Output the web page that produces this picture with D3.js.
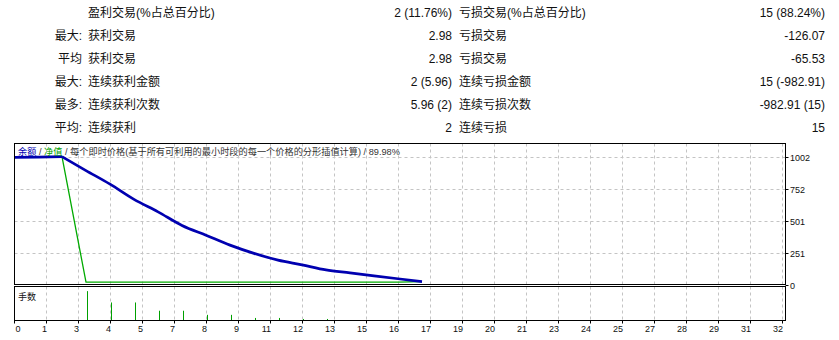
<!DOCTYPE html>
<html>
<head>
<meta charset="utf-8">
<script src="https://cdn.jsdelivr.net/npm/d3@7"></script>
<style>
  body { margin: 0; background: #fff; }
  svg { display: block; }
  text { font-family: 'Liberation Sans', 'Noto Sans CJK SC', sans-serif; fill: #111; }
</style>
</head>
<body>
<svg id="chart"></svg>
<script>
// summary table
const rowPrefix = ['', '最大:', '平均', '最大:', '最多:', '平均:'];
const winLabels = ['盈利交易(%占总百分比)', '获利交易', '获利交易', '连续获利金额', '连续获利次数', '连续获利'];
const winValues = ['2 (11.76%)', '2.98', '2.98', '2 (5.96)', '5.96 (2)', '2'];
const lossLabels = ['亏损交易(%占总百分比)', '亏损交易', '亏损交易', '连续亏损金额', '连续亏损次数', '连续亏损'];
const lossValues = ['15 (88.24%)', '-126.07', '-65.53', '15 (-982.91)', '-982.91 (15)', '15'];

// graph data, x = trade number
const tradeNo = [0, 1, 2, 3, 4, 5, 6, 7, 8, 9, 10, 11, 12, 13, 14, 15, 16, 17];
const balance = [1000, 1002.98, 1005.96, 897, 790, 670, 572, 465, 388, 310, 245, 192, 155, 115, 92, 68, 45, 23.05];
const equity = [1000, 1002.98, 1005.96, 18, 18, 18, 18, 18, 18, 18, 18, 18, 18, 18, 18, 18, 18, 23.05];
const volTrade = [1, 2, 3, 4, 5, 6, 7, 8, 9, 10, 11, 12, 13, 14, 15, 16, 17];
const volume = [0, 0, 0.28, 0.17, 0.17, 0.09, 0.09, 0.05, 0.05, 0.02, 0.02, 0.01, 0.01, 0, 0, 0, 0];
const yTicks = [0, 250.5, 501, 751.5, 1002];
const xTickStep = 4 / 3;

const titleParts = [
  { t: '余额', c: '#0000b0' },
  { t: ' / ', c: '#333' },
  { t: '净值', c: '#00a000' },
  { t: ' / 每个即时价格(基于所有可利用的最小时段的每一个价格的分形插值计算) / 89.98%', c: '#333' }
];

const width = 839, height = 340;
const svg = d3.select('#chart').attr('width', width).attr('height', height);

// table
const rowY = d3.scaleLinear().domain([0, 1]).range([16.5, 39.5]);
const table = svg.append('g').style('font-size', '12px');
rowPrefix.forEach((p, i) => {
  const y = rowY(i);
  table.append('text').attr('x', 82).attr('y', y).attr('text-anchor', 'end').text(p);
  table.append('text').attr('x', 88).attr('y', y).text(winLabels[i]);
  table.append('text').attr('x', 452).attr('y', y).attr('text-anchor', 'end').text(winValues[i]);
  table.append('text').attr('x', 459).attr('y', y).text(lossLabels[i]);
  table.append('text').attr('x', 825).attr('y', y).attr('text-anchor', 'end').text(lossValues[i]);
});

// panels
const left = 14.5, right = 785.5;
const mainTop = 143.5, mainBottom = 284.5;
const volTop = 286.5, volBottom = 320.5;

const x = d3.scaleLinear().domain([0, 32]).range([14, 782]);
const y = d3.scaleLinear().domain([0, 1110]).range([mainBottom, mainTop]);
const yv = d3.scaleLinear().domain([0, 0.32]).range([volBottom - 0.5, volTop + 0.5]);

const xTicks = d3.range(0, 25).map(k => k * xTickStep);

// grid
const grid = svg.append('g')
  .attr('stroke', '#c4c4c4')
  .attr('stroke-width', 1)
  .attr('stroke-dasharray', '3,3');

grid.selectAll('.vg')
  .data(xTicks.slice(1))
  .enter()
  .append('line')
    .attr('x1', d => Math.round(x(d)) + 0.5)
    .attr('x2', d => Math.round(x(d)) + 0.5)
    .attr('y1', mainTop)
    .attr('y2', mainBottom);

grid.selectAll('.vg2')
  .data(xTicks.slice(1))
  .enter()
  .append('line')
    .attr('x1', d => Math.round(x(d)) + 0.5)
    .attr('x2', d => Math.round(x(d)) + 0.5)
    .attr('y1', volTop)
    .attr('y2', volBottom);

grid.selectAll('.hg')
  .data(yTicks.slice(1))
  .enter()
  .append('line')
    .attr('x1', left)
    .attr('x2', right)
    .attr('y1', d => Math.round(y(d)) + 0.5)
    .attr('y2', d => Math.round(y(d)) + 0.5);

// equity
const eqLine = d3.line().x((d, i) => x(tradeNo[i])).y(d => y(d));
svg.append('path')
  .datum(equity)
  .attr('fill', 'none')
  .attr('stroke', '#00aa00')
  .attr('stroke-width', 1.3)
  .attr('d', eqLine);

// balance, smoothed a little like the tick-by-tick curve
const balLine = d3.line()
  .x((d, i) => x(tradeNo[i]))
  .y(d => y(d))
  .curve(d3.curveMonotoneX);
svg.append('path')
  .datum(balance.slice(2))
  .attr('fill', 'none')
  .attr('stroke', '#0000b0')
  .attr('stroke-width', 2.7)
  .attr('d', d3.line().x((d, i) => x(tradeNo[i + 2])).y(d => y(d)).curve(d3.curveMonotoneX));
svg.append('path')
  .datum(balance.slice(0, 3))
  .attr('fill', 'none')
  .attr('stroke', '#0000b0')
  .attr('stroke-width', 2.7)
  .attr('d', balLine);

// volume bars
volume.forEach((v, i) => {
  if (v <= 0) return;
  svg.append('line')
    .attr('x1', Math.round(x(volTrade[i])) + 1.5)
    .attr('x2', Math.round(x(volTrade[i])) + 1.5)
    .attr('y1', yv(0))
    .attr('y2', yv(v))
    .attr('stroke', '#00a000')
    .attr('stroke-width', 1);
});

// borders
const border = svg.append('g').attr('fill', 'none').attr('stroke', '#000').attr('stroke-width', 1);
border.append('rect').attr('x', left).attr('y', mainTop).attr('width', right - left).attr('height', mainBottom - mainTop);
border.append('rect').attr('x', left).attr('y', volTop).attr('width', right - left).attr('height', volBottom - volTop);

// title inside main panel
const title = svg.append('text')
  .attr('x', 18)
  .attr('y', 154.5)
  .style('font-size', '9.2px');
titleParts.forEach(p => title.append('tspan').style('fill', p.c).text(p.t));

svg.append('text')
  .attr('x', 18)
  .attr('y', 299.5)
  .style('font-size', '9px')
  .text('手数');

// right axis
const yAxis = svg.append('g').style('font-size', '9px');
yTicks.forEach(t => {
  const yy = Math.round(y(t)) + 0.5;
  yAxis.append('line').attr('x1', right).attr('x2', right + 3).attr('y1', yy).attr('y2', yy).attr('stroke', '#000');
  yAxis.append('text').attr('x', 790).attr('y', yy + 3.2).text(Math.round(t));
});

// bottom axis
const xAxis = svg.append('g').style('font-size', '9px');
xTicks.forEach((t, k) => {
  const xx = Math.round(x(t)) + 0.5;
  xAxis.append('line').attr('x1', xx).attr('x2', xx).attr('y1', volBottom).attr('y2', volBottom + 3).attr('stroke', '#000');
  xAxis.append('text')
    .attr('x', k === 0 ? xx + 1 : xx + 0.5)
    .attr('y', 331.5)
    .attr('text-anchor', k === 0 ? 'start' : 'end')
    .text(Math.round(t));
});
</script>
</body>
</html>
